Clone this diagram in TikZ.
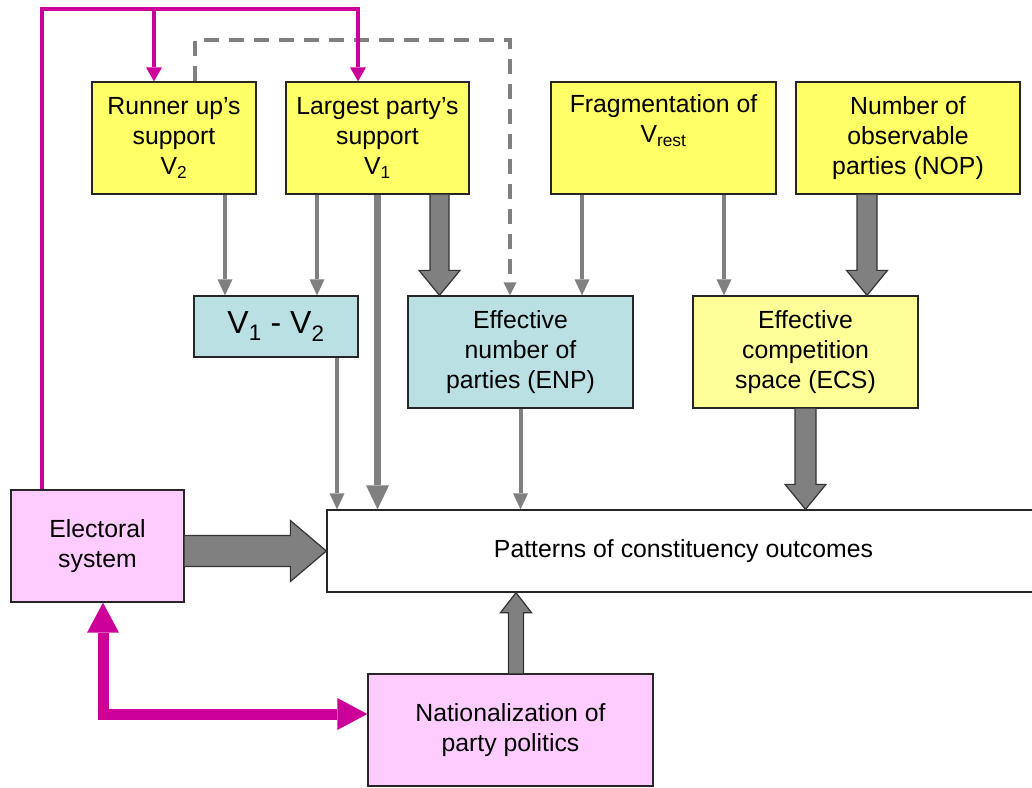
\documentclass[tikz,border=0pt]{standalone}
\usepackage{fontspec}
\setmainfont{Liberation Sans}
\usetikzlibrary{arrows.meta,calc}

\definecolor{boxyellow}{HTML}{FFFF66}
\definecolor{paleyellow}{HTML}{FFFF99}
\definecolor{boxblue}{HTML}{BBE0E3}
\definecolor{boxpink}{HTML}{FFCCFF}
\definecolor{magentaline}{HTML}{CC0099}
\definecolor{arrowgray}{HTML}{808080}

\newcommand{\boxfont}{\fontsize{24.8}{30}\selectfont}

% block arrow: start, end, half shaft, half head, head length
\newcommand{\fatarrow}[5]{%
  \coordinate (fa-s) at #1;
  \coordinate (fa-e) at #2;
  \coordinate (fa-h) at ($(fa-e)!#5!(fa-s)$);
  \filldraw[fatline] ($(fa-s)!#3!90:(fa-e)$) -- ($(fa-h)!#3!90:(fa-e)$)
    -- ($(fa-h)!#4!90:(fa-e)$) -- (fa-e) -- ($(fa-h)!#4!-90:(fa-e)$)
    -- ($(fa-h)!#3!-90:(fa-e)$) -- ($(fa-s)!#3!-90:(fa-e)$);}

\tikzset{
  box/.style={draw=black!85, line width=1.3pt, inner sep=0pt, align=center,
    font=\boxfont, minimum width=#1, minimum height=112},
  box/.default=225,
  fatline/.style={fill=arrowgray, draw=black!80, line width=1.2pt},
  thinarr/.style={draw=arrowgray, line width=4pt,
    -{Triangle[width=15pt,length=16pt,line width=0pt]}},
  thickarr/.style={draw=arrowgray, line width=7pt,
    -{Triangle[width=23pt,length=24pt,line width=0pt]}},
  dasharr/.style={draw=arrowgray, line width=4pt, dash pattern=on 15pt off 10pt,
    -{Triangle[width=13pt,length=13pt,line width=0pt]}},
  magarr/.style={draw=magentaline, line width=4pt,
    -{Triangle[width=16pt,length=14pt,line width=0pt]}},
  magboth/.style={draw=magentaline, line width=11pt,
    {Triangle[width=32pt,length=30pt,line width=0pt]}-{Triangle[width=32pt,length=30pt,line width=0pt]}}
}

\begin{document}
\begin{tikzpicture}[x=1pt,y=1pt]
\useasboundingbox (0,0) rectangle (1032,-787);

% top row
\node[box=164, fill=boxyellow] (rup) at (174,-138) {Runner up’s\\support\\V\textsubscript{2}};
\node[box=183, fill=boxyellow] (lps) at (377.5,-138) {Largest party’s\\support\\V\textsubscript{1}};
\node[box=225, fill=boxyellow] (frag) at (663.5,-138) {Fragmentation of\\V\textsubscript{rest}\\\strut};
\node[box=224, fill=boxyellow] (nop) at (908,-138) {Number of\\observable\\parties (NOP)};

% middle row
\node[box=164, minimum height=61, fill=boxblue, font=\fontsize{32}{38}\selectfont]
  (vdiff) at (276,-326.5) {V\textsubscript{1} - V\textsubscript{2}};
\node[box=225, fill=boxblue] (enp) at (520.5,-352) {Effective\\number of\\parties (ENP)};
\node[box=225, fill=paleyellow] (ecs) at (805.5,-352) {Effective\\competition\\space (ECS)};

% outcome and context
\node[box=713, minimum height=82, fill=white] (pat) at (683.5,-551)
  {Patterns of constituency outcomes};
\node[box=173, fill=boxpink] (elec) at (97.5,-546) {Electoral\\system};
\node[box=285, fill=boxpink] (nat) at (510.5,-730) {Nationalization of\\party politics};

% thin links
\draw[thinarr] ([xshift=51]rup.south) -- ([xshift=-51]vdiff.north);
\draw[thinarr] ([xshift=-60.5]lps.south) -- ([xshift=41]vdiff.north);
\draw[thinarr] ([xshift=-81.5]frag.south) -- ([xshift=61.5]enp.north);
\draw[thinarr] ([xshift=60.5]frag.south) -- ([xshift=-81.5]ecs.north);
\draw[thinarr] ([xshift=61]vdiff.south) -- ([xshift=-346.5]pat.north);
\draw[thinarr] (enp.south) -- ([xshift=-163]pat.north);
\draw[thickarr] (lps.south) -- ([xshift=-306]pat.north);

% block arrows
\fatarrow{([xshift=62]lps.south)}{([xshift=-81]enp.north)}{9.5pt}{20.5pt}{25pt}
\fatarrow{([xshift=-41]nop.south)}{([xshift=61.5]ecs.north)}{10pt}{20.5pt}{25pt}
\fatarrow{(ecs.south)}{([xshift=122]pat.north)}{10.5pt}{20.5pt}{25pt}
\fatarrow{([yshift=-5]elec.east)}{(pat.west)}{15.5pt}{30.5pt}{36pt}
\fatarrow{([xshift=5.5]nat.north)}{([xshift=-167.5]pat.south)}{7.5pt}{15.5pt}{20pt}

% feedback loops
\draw[dasharr] ([xshift=21]rup.north) -- ++(0,41) -| ([xshift=-10.5]enp.north);
\draw[magarr] ([xshift=-55.5]elec.north) -- ++(0,480) -| ([xshift=-19.5]lps.north);
\draw[magarr] ([xshift=-20,yshift=72]rup.north) -- ([xshift=-20]rup.north);
\draw[magboth] ([xshift=5.5]elec.south) |- ([yshift=16]nat.west);

\end{tikzpicture}
\end{document}
